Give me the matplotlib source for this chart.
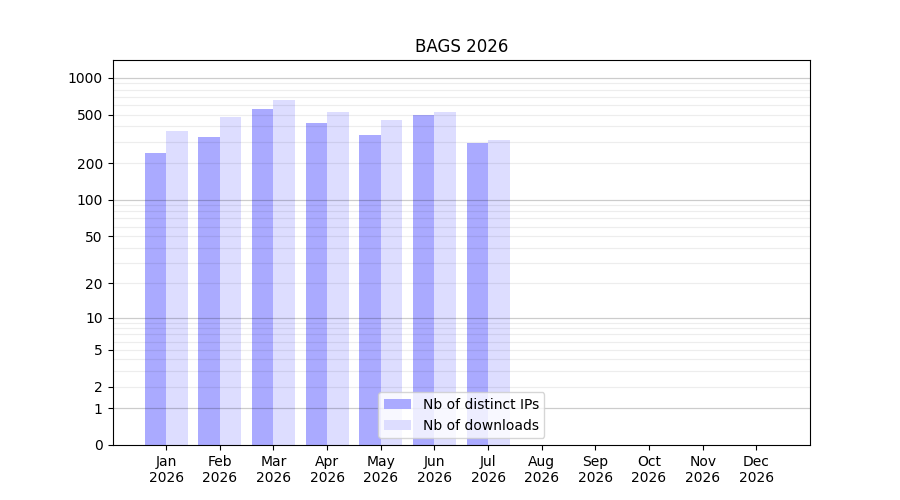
import numpy as np
import matplotlib
matplotlib.use("Agg")
import matplotlib.pyplot as plt

MONTHS = ["Jan", "Feb", "Mar", "Apr", "May", "Jun", "Jul", "Aug", "Sep",
          "Oct", "Nov", "Dec"]
YEAR = "2026"
IPS = [243, 329, 558, 428, 342, 498, 294, 0, 0, 0, 0, 0]
DOWNLOADS = [368, 480, 661, 527, 453, 527, 311, 0, 0, 0, 0, 0]
YTICKS = [0, 1, 2, 5, 10, 20, 50, 100, 200, 500, 1000]


def fwd(y):
    return np.log10(1 + np.clip(y, 0, None))


def inv(y):
    return 10 ** y - 1


def main():
    fig, ax = plt.subplots(figsize=(9, 5), dpi=100)
    x = np.arange(len(MONTHS))

    ax.bar(x, IPS, width=-0.4, align="edge", color="#aaaaff",
           label="Nb of distinct IPs", zorder=1)
    ax.bar(x, DOWNLOADS, width=0.4, align="edge", color="#ddddff",
           label="Nb of downloads", zorder=1)

    ax.set_yscale("function", functions=(fwd, inv))
    ax.set_ylim(0, 1400)
    ax.set_yticks(YTICKS)
    ax.set_yticklabels([str(v) for v in YTICKS])
    ax.minorticks_off()

    # grid on top of the bars: decades darker, 2..9 multiples lighter
    for dec in [1, 10, 100, 1000]:
        ax.axhline(dec, color="black", alpha=0.2, lw=0.9, zorder=3)
        if dec < 1000:
            for k in range(2, 10):
                ax.axhline(dec * k, color="black", alpha=0.07, lw=0.9,
                           zorder=3)

    ax.set_xticks(x)
    ax.set_xticklabels([f"{m}\n{YEAR}" for m in MONTHS])
    ax.set_xlim(-1, 12)
    ax.set_title("BAGS 2026")
    ax.legend(loc="lower center").set_zorder(5)

    fig.savefig("out.png", dpi=100)


if __name__ == "__main__":
    main()
